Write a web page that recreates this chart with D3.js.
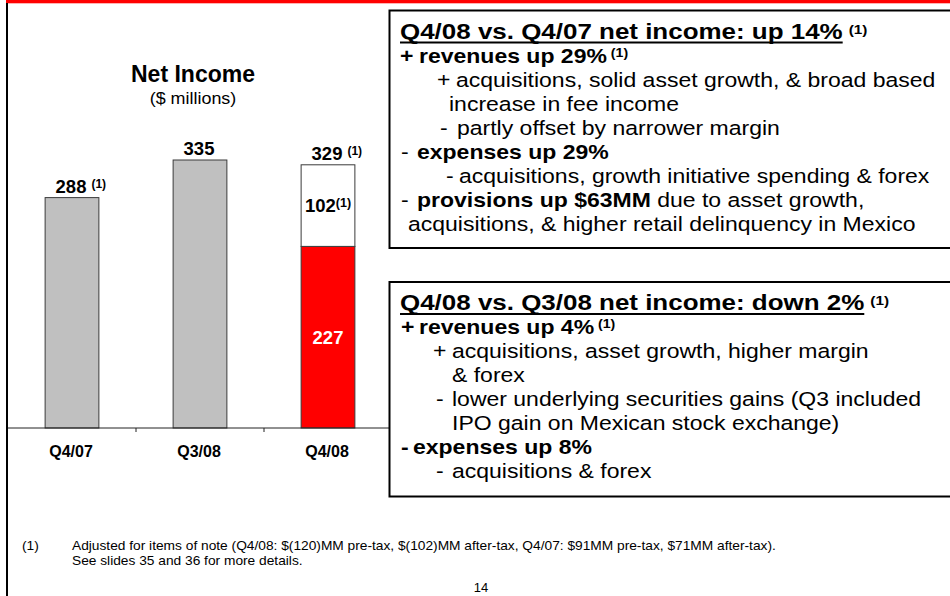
<!DOCTYPE html>
<html><head><meta charset="utf-8">
<script src="https://cdn.jsdelivr.net/npm/d3@7/dist/d3.min.js"></script>
<style>
html,body{margin:0;padding:0;background:#fff;}
svg text{font-family:"Liberation Sans",Arial,Helvetica,sans-serif;white-space:pre;}
</style></head>
<body><svg id="c" width="950" height="596"></svg>
<script>
// ---- data ----
const categories = ["Q4/07", "Q3/08", "Q4/08"];
const reportedValues = [288, 335, 227];   // gray / red base segment
const itemsOfNote = [0, 0, 102];          // white top segment (adjustment)
const totalLabels = ["288", "335", "329"];
const totalNotes = ["(1)", "", "(1)"];
const chartTitle = "Net Income";
const chartSubtitle = "($ millions)";

const box1Title = "Q4/08 vs. Q4/07 net income: up 14%";
const box1Lines = [
  [{t:"+", b:1}, {t:"revenues up 29%", b:1}, {t:" (1)", b:1, sup:1}],
  [{t:"+"}, {t:"acquisitions, solid asset growth, & broad based"}],
  [{t:"increase in fee income"}],
  [{t:"-"}, {t:"partly offset by narrower margin"}],
  [{t:"-"}, {t:"expenses up 29%", b:1}],
  [{t:"-"}, {t:"acquisitions, growth initiative spending & forex"}],
  [{t:"-"}, {t:"provisions up $63MM", b:1}, {t:" due to asset growth,"}],
  [{t:"acquisitions, & higher retail delinquency in Mexico"}]
];
const box2Title = "Q4/08 vs. Q3/08 net income: down 2%";
const box2Lines = [
  [{t:"+", b:1}, {t:"revenues up 4%", b:1}, {t:" (1)", b:1, sup:1}],
  [{t:"+"}, {t:"acquisitions, asset growth, higher margin"}],
  [{t:"& forex"}],
  [{t:"-"}, {t:"lower underlying securities gains (Q3 included"}],
  [{t:"IPO gain on Mexican stock exchange)"}],
  [{t:"-", b:1}, {t:"expenses up 8%", b:1}],
  [{t:"-"}, {t:"acquisitions & forex"}]
];
const footnoteMark = "(1)";
const footnoteLines = [
  "Adjusted for items of note (Q4/08: $(120)MM pre-tax, $(102)MM after-tax, Q4/07: $91MM pre-tax, $71MM after-tax).",
  "See slides 35 and 36 for more details."
];
const pageNumber = "14";

// ---- layout (positions kept here, not in data) ----
const box1Indent = [[400,419],[437,456],[449],[440,457],[401,417],[446,459],[401,417],[408]];
const box2Indent = [[401,419],[433,452],[452],[436,452],[452],[401,413],[436,452]];

const svg = d3.select("#c");

// slide frame
svg.append("rect").attr("x",6).attr("y",0).attr("width",944).attr("height",3.3).attr("fill","#ff0000");
svg.append("rect").attr("x",6).attr("y",3).attr("width",2).attr("height",593).attr("fill","#000");

// ---- chart ----
const x = d3.scaleBand().domain(categories).range([8,392]).paddingInner(0.58).paddingOuter(0.29);
const y = d3.scaleLinear().domain([0,500]).range([428,28]);
const baseColors = ["#c0c0c0","#c0c0c0","#ff0000"];

const chart = svg.append("g");
chart.selectAll("rect.base").data(categories).join("rect").attr("class","base")
  .attr("x", d=>x(d)).attr("width", x.bandwidth())
  .attr("y", (d,i)=>y(reportedValues[i])).attr("height",(d,i)=>y(0)-y(reportedValues[i]))
  .attr("fill",(d,i)=>baseColors[i]).attr("stroke","#3a3a3a").attr("stroke-width",1);
chart.selectAll("rect.adj").data(categories.filter((d,i)=>itemsOfNote[i]>0)).join("rect").attr("class","adj")
  .attr("x", d=>x(d)).attr("width", x.bandwidth())
  .attr("y", d=>{const i=categories.indexOf(d);return y(reportedValues[i]+itemsOfNote[i]);})
  .attr("height", d=>{const i=categories.indexOf(d);return y(reportedValues[i])-y(reportedValues[i]+itemsOfNote[i]);})
  .attr("fill","#fff").attr("stroke","#3a3a3a").attr("stroke-width",1);

// axis
const axisY = y(0);
chart.append("line").attr("x1",x.range()[0]).attr("x2",x.range()[1]).attr("y1",axisY).attr("y2",axisY)
  .attr("stroke","#222").attr("stroke-width",1);
d3.range(1,categories.length+1).forEach(k=>{
  const tx = x.range()[0] + k*x.step();
  chart.append("line").attr("x1",tx).attr("x2",tx).attr("y1",axisY).attr("y2",axisY+4).attr("stroke","#222");
});
chart.selectAll("text.cat").data(categories).join("text").attr("class","cat")
  .attr("x", d=>x(d)+x.bandwidth()/2-1).attr("y", axisY+29)
  .attr("text-anchor","middle").attr("font-size",16).attr("font-weight","bold").text(d=>d);

// total labels
categories.forEach((c,i)=>{
  const cx = x(c)+x.bandwidth()/2;
  const top = y(reportedValues[i]+itemsOfNote[i]);
  const t = chart.append("text").attr("x",cx-1).attr("y",top-5).attr("text-anchor","middle")
    .attr("font-size",18.5).attr("font-weight","bold").text(totalLabels[i]);
  if (totalNotes[i]) {
    const w = t.node().getComputedTextLength();
    chart.append("text").attr("x",cx-1+w/2+5).attr("y",top-10).attr("font-size",12)
      .attr("font-weight","bold").text(totalNotes[i]);
  }
  if (itemsOfNote[i]>0) {
    const mid = (y(reportedValues[i]) + top)/2;
    chart.append("text").attr("x",cx).attr("y",mid+6.5).attr("text-anchor","middle")
      .attr("font-size",18.5).attr("font-weight","bold")
      .call(s=>{ s.append("tspan").text(String(itemsOfNote[i]));
                 s.append("tspan").attr("font-size",12.5).attr("dy",-5.5).text("(1)"); });
    const midB = (y(0)+y(reportedValues[i]))/2;
    chart.append("text").attr("x",cx).attr("y",midB+6.5).attr("text-anchor","middle")
      .attr("font-size",18.5).attr("font-weight","bold").attr("fill","#fff").text(String(reportedValues[i]));
  }
});

// chart title
chart.append("text").attr("x",193).attr("y",82).attr("text-anchor","middle")
  .attr("font-size",23).attr("font-weight","bold").text(chartTitle);
chart.append("text").attr("transform","translate(193,104) scale(1.12,1)").attr("text-anchor","middle")
  .attr("font-size",16).text(chartSubtitle);

// ---- text boxes ----
const SX = 1.18, BODY = 19.5, HEAD = 22;
function seg(g, x0, yb, text, size, bold, sx){
  const t = g.append("text").attr("transform",`translate(${x0},${yb}) scale(${sx},1)`)
    .attr("font-size",size).attr("font-weight",bold?"bold":"normal").text(text);
  return t.node().getComputedTextLength()*sx;
}
function drawBox(top, bottom, title, lines, indents){
  const g = svg.append("g");
  g.append("rect").attr("x",389.5).attr("y",top).attr("width",620).attr("height",bottom-top)
    .attr("fill","#fff").attr("stroke","#000").attr("stroke-width",2);
  const tb = top + 28;
  const w = seg(g, 400, tb, title, HEAD, true, SX);
  g.append("rect").attr("x",400).attr("y",tb+3).attr("width",w).attr("height",2).attr("fill","#000");
  seg(g, 400+w+6, tb-5, "(1)", 13, true, SX);
  lines.forEach((parts,li)=>{
    const yb = tb + 24*(li+1);
    const ind = indents[li];
    let cx;
    if (parts.length>1 && ind.length>1){
      seg(g, ind[0], yb, parts[0].t, BODY, parts[0].b, SX);
      cx = ind[1];
      parts = parts.slice(1);
    } else cx = ind[0];
    parts.forEach(p=>{
      if (p.sup) cx += seg(g, cx, yb-6, p.t, 12, true, SX);
      else cx += seg(g, cx, yb, p.t, BODY, p.b, SX);
    });
  });
}
drawBox(10.5, 248, box1Title, box1Lines, box1Indent);
drawBox(282, 496.5, box2Title, box2Lines, box2Indent);

// ---- footnote ----
svg.append("text").attr("transform","translate(22,550) scale(1.1,1)").attr("font-size",12.5).text(footnoteMark);
footnoteLines.forEach((l,i)=>{
  svg.append("text").attr("transform",`translate(72,${550+14.5*i}) scale(1.1,1)`).attr("font-size",12.5).text(l);
});
svg.append("text").attr("x",481).attr("y",592).attr("text-anchor","middle").attr("font-size",13).text(pageNumber);
</script></body></html>
